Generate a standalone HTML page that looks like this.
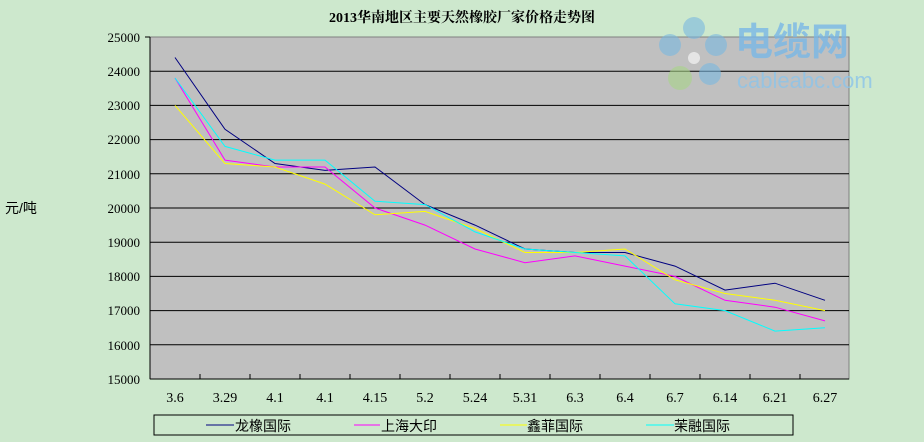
<!DOCTYPE html>
<html><head><meta charset="utf-8"><style>
body{margin:0;background:#cde8cd;}
svg{display:block;font-family:"Liberation Serif","Noto Serif CJK SC",serif;}
</style></head><body>
<svg width="924" height="442" xmlns="http://www.w3.org/2000/svg">
<rect width="924" height="442" fill="#cde8cd"/>
<text x="462" y="22" text-anchor="middle" font-size="14" font-weight="bold" fill="#000">2013华南地区主要天然橡胶厂家价格走势图</text>
<rect x="150" y="37" width="699" height="342" fill="#c0c0c0" stroke="#808080"/>
<g stroke="#000" stroke-width="1">
<line x1="150" y1="71.2" x2="849" y2="71.2"/><line x1="150" y1="105.4" x2="849" y2="105.4"/>
<line x1="150" y1="139.6" x2="849" y2="139.6"/><line x1="150" y1="173.8" x2="849" y2="173.8"/>
<line x1="150" y1="208" x2="849" y2="208"/><line x1="150" y1="242.2" x2="849" y2="242.2"/>
<line x1="150" y1="276.4" x2="849" y2="276.4"/><line x1="150" y1="310.6" x2="849" y2="310.6"/>
<line x1="150" y1="344.8" x2="849" y2="344.8"/>
<line x1="150" y1="37" x2="150" y2="379"/><line x1="150" y1="379" x2="849" y2="379"/>
<line x1="145" y1="37" x2="150" y2="37"/>
</g>
<g stroke="#000"><path d="M200 379v-5M250 379v-5M300 379v-5M350 379v-5M400 379v-5M450 379v-5M500 379v-5M550 379v-5M600 379v-5M650 379v-5M700 379v-5M750 379v-5M800 379v-5"/></g>
<g font-size="13" text-anchor="end" fill="#000">
<text x="140" y="42">25000</text><text x="140" y="76">24000</text><text x="140" y="110">23000</text>
<text x="140" y="144">22000</text><text x="140" y="179">21000</text><text x="140" y="213">20000</text>
<text x="140" y="247">19000</text><text x="140" y="281">18000</text><text x="140" y="315">17000</text>
<text x="140" y="350">16000</text><text x="140" y="384">15000</text>
</g>
<text x="5" y="213" font-size="14" font-family="Liberation Sans,Noto Sans CJK SC,sans-serif">元/吨</text>
<g font-size="14" text-anchor="middle" fill="#000">
<text x="175" y="402">3.6</text><text x="225" y="402">3.29</text><text x="275" y="402">4.1</text>
<text x="325" y="402">4.1</text><text x="375" y="402">4.15</text><text x="425" y="402">5.2</text>
<text x="475" y="402">5.24</text><text x="525" y="402">5.31</text><text x="575" y="402">6.3</text>
<text x="625" y="402">6.4</text><text x="675" y="402">6.7</text><text x="725" y="402">6.14</text>
<text x="775" y="402">6.21</text><text x="825" y="402">6.27</text>
</g>
<g fill="none" stroke-width="1">
<polyline stroke="#000080" points="175,57.5 225,129.3 275,163.5 325,170.4 375,167 425,204.6 475,225.1 525,249 575,252.5 625,252.5 675,266.1 725,290.1 775,283.2 825,300.3"/>
<polyline stroke="#ff00ff" points="175,78 225,160.1 275,167 325,167 375,208 425,225.1 475,249 525,262.7 575,255.9 625,266.1 675,276.4 725,300.3 775,307.2 825,320.9"/>
<polyline stroke="#ffff00" points="175,105.4 225,163.5 275,167 325,184.1 375,214.8 425,211.4 475,228.5 525,252.5 575,252.5 625,249 675,279.8 725,293.5 775,300.3 825,310.6"/>
<polyline stroke="#00ffff" points="175,78 225,146.4 275,160.1 325,160.1 375,201.2 425,204.6 475,231.9 525,249 575,252.5 625,255.9 675,303.8 725,310.6 775,331.1 825,327.7"/>
</g>
<!-- logo -->
<g opacity="0.6">
<circle cx="694" cy="28" r="11" fill="#7ab8e0"/><circle cx="670" cy="45" r="11" fill="#7ab8e0"/>
<circle cx="716" cy="45" r="11" fill="#7ab8e0"/><circle cx="680" cy="78" r="12" fill="#a8d488"/>
<circle cx="710" cy="74" r="11" fill="#7ab8e0"/><circle cx="694" cy="58" r="6" fill="#fff"/>
</g>
<text x="735" y="55" font-family="Liberation Sans,Noto Sans CJK SC,sans-serif" font-size="38" font-weight="bold" fill="#7ab8e6" opacity="0.8">电缆网</text>
<text x="737" y="88" font-family="Liberation Sans,sans-serif" font-size="22" fill="#8cc4ea" opacity="0.8">cableabc.com</text>
<rect x="154" y="415" width="639" height="20" fill="#cde8cd" stroke="#000"/>
<g font-size="14" font-family="Liberation Sans,Noto Sans CJK SC,sans-serif">
<line x1="206" y1="425" x2="234" y2="425" stroke="#000080"/><text x="235" y="431">龙橡国际</text>
<line x1="354" y1="425" x2="380" y2="425" stroke="#ff00ff"/><text x="381" y="431">上海大印</text>
<line x1="500" y1="425" x2="527" y2="425" stroke="#ffff00"/><text x="527" y="431">鑫菲国际</text>
<line x1="646" y1="425" x2="674" y2="425" stroke="#00ffff"/><text x="674" y="431">茉融国际</text>
</g>
</svg>
</body></html>
